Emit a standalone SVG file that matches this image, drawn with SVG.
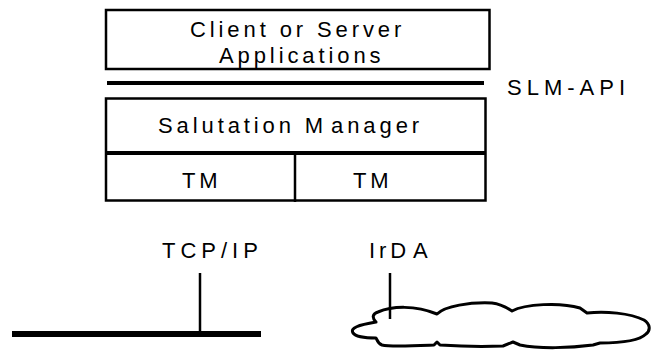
<svg xmlns="http://www.w3.org/2000/svg" width="652" height="350" viewBox="0 0 652 350">
  <style>
    .lbl { font-family: "Liberation Sans", Arial, sans-serif; font-size: 22px; fill: #000; letter-spacing: 3.9px; }
    .wide { letter-spacing: 5px; }
    .box { fill: none; stroke: #000; stroke-width: 2.5; }
    .ln { stroke: #000; fill: none; }
  </style>
  <rect x="0" y="0" width="652" height="350" fill="#fff"/>

  <g id="applications">
    <rect class="box" x="106" y="10" width="383.5" height="59"/>
    <text class="lbl" x="190" y="36.5">Client or Server</text>
    <text class="lbl" x="219" y="63">Applications</text>
  </g>

  <g id="slm-api">
    <line class="ln" x1="107" y1="83" x2="484" y2="83" stroke-width="4"/>
    <text class="lbl wide" x="507" y="95">SLM-API</text>
  </g>

  <g id="salutation-manager">
    <rect class="box" x="106" y="98.5" width="379.5" height="102"/>
    <line class="ln" x1="106" y1="153" x2="485.5" y2="153" stroke-width="4"/>
    <text class="lbl" x="158" y="133">Salutation M<tspan dx="4">anager</tspan></text>
  </g>

  <g id="tm-left">
    <text class="lbl" x="182" y="188">TM</text>
  </g>
  <g id="tm-right">
    <text class="lbl" x="353" y="188">TM</text>
  </g>
  <line class="ln" x1="295" y1="153" x2="295" y2="202" stroke-width="2.5"/>

  <g id="tcpip">
    <text class="lbl wide" x="162" y="258">TCP/IP</text>
    <line class="ln" x1="12" y1="334" x2="261" y2="334" stroke-width="6"/>
  </g>

  <g id="irda">
    <text class="lbl" x="369" y="258">IrD<tspan dx="3">A</tspan></text>
    <path class="ln" stroke-width="3" stroke-linejoin="round" d="M376,322 C372,318 372,314 378,312 C392,306 415,305 437,314 C445,306 470,302 492,303 C500,304 506,307 512,311 C525,304 560,302 580,308 L587,313 C605,311 630,313 644,320 C650,324 651,330 646,334 C640,340 625,343 600,343 L593,345 C570,348 540,349 520,345 L513,342 L503,346 C480,347 455,346 440,345 L437,342 L434,345 C410,346 390,347 382,345 C377,343 377,339 376,338 C366,338 356,337 353,333 C350,328 358,325 376,322 Z"/>
  </g>

  <g id="connectors">
    <line class="ln" x1="200" y1="273" x2="200" y2="332" stroke-width="2.5"/>
    <line class="ln" x1="390" y1="273" x2="390" y2="319" stroke-width="2.5"/>
  </g>
</svg>
